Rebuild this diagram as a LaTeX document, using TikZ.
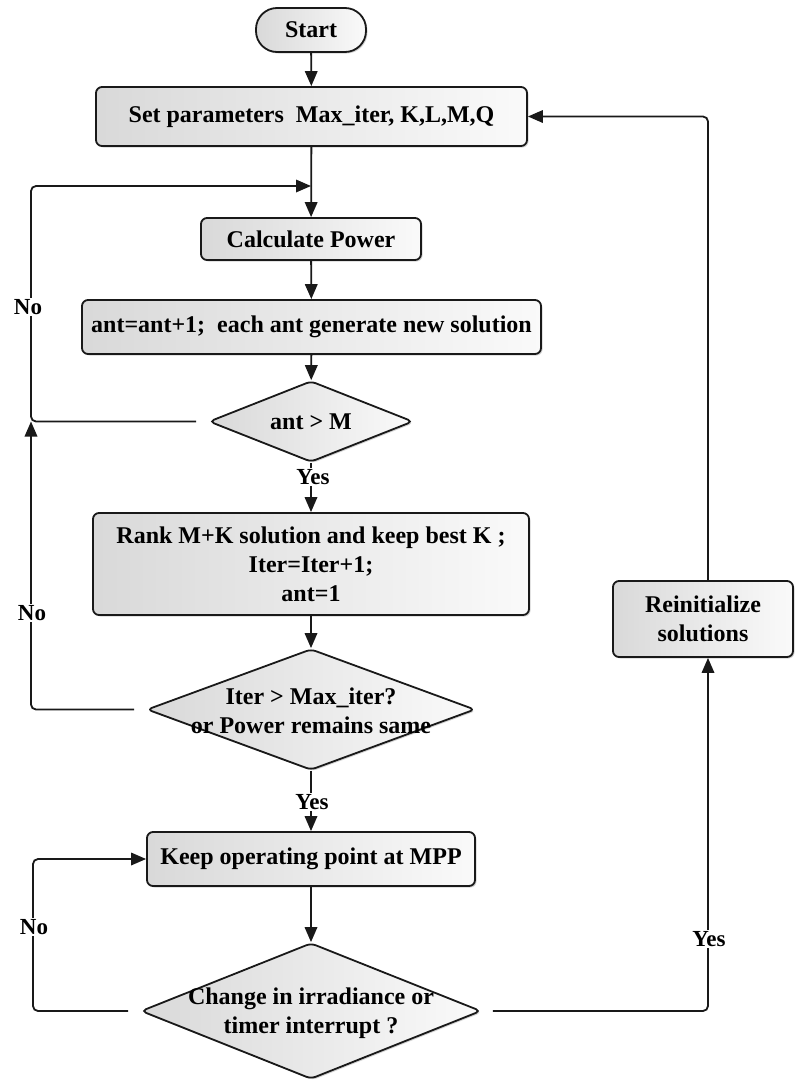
\documentclass[tikz,border=0pt]{standalone}
\usepackage{fontspec}
\setmainfont{Liberation Serif}
\usetikzlibrary{shapes.geometric,arrows.meta,shadows}

\begin{document}
\begin{tikzpicture}[x=1pt,y=-1pt,
  every node/.style={font=\fontsize{24}{29}\selectfont\bfseries, inner sep=0pt, align=center},
  procbox/.style={draw=black!90, line width=1.8pt, rounded corners=6pt,
    left color=black!15, right color=black!2,
    drop shadow={shadow xshift=1.5pt, shadow yshift=-1.5pt, opacity=0.35, fill=black!50}},
  termbox/.style={procbox, rounded corners=21pt},
  decision/.style={diamond, draw=black!90, line width=1.8pt, rounded corners=5pt,
    left color=black!15, right color=black!2,
    drop shadow={shadow xshift=1.5pt, shadow yshift=-1.5pt, opacity=0.35, fill=black!50}},
  flow/.style={line width=1.8pt, draw=black!90, -{Triangle[length=15pt,width=12.5pt]}},
  tag/.style={fill=white, inner sep=1pt, font=\fontsize{23}{27}\selectfont\bfseries}
]
\useasboundingbox (0,0) rectangle (795,1082);

% process blocks
\node[termbox, minimum width=110pt, minimum height=44pt] (start) at (311,30) {Start};
\node[procbox, minimum width=431pt, minimum height=59pt] (setp) at (311.5,116.5)
  {Set parameters\ \ Max\_iter, K,L,M,Q};
\node[procbox, minimum width=220pt, minimum height=42pt] (calc) at (311,239) {Calculate Power};
\node[procbox, minimum width=459pt, minimum height=54pt] (gen) at (311.5,327)
  {ant=ant+1;\ \ each ant generate new solution};
\node[decision, minimum width=204pt, minimum height=81pt] (d1) at (311,421.5) {};
\node (d1t) at (d1) {ant > M};
\node[procbox, minimum width=436pt, minimum height=102pt] (rank) at (311,564)
  {Rank M+K solution and keep best K ;\\Iter=Iter+1;\\ant=1};
\node[decision, minimum width=328pt, minimum height=121pt] (d2) at (311,709.5) {};
\node (d2t) at (311,711) {Iter > Max\_iter?\\or Power remains same};
\node[procbox, minimum width=328pt, minimum height=54pt] (keep) at (311,859) {Keep operating point at MPP};
\node[decision, minimum width=340pt, minimum height=136pt] (d3) at (311,1011) {};
\node (d3t) at (311,1013) {Change in irradiance or\\timer interrupt ?};
\node[procbox, minimum width=180pt, minimum height=76pt] (reinit) at (703,619) {Reinitialize\\solutions};

% routing columns
\coordinate (lc) at (31,0);
\coordinate (lc3) at (33,0);
\coordinate (rc) at (708,0);
\coordinate (j1) at (311,186);

% main column
\draw[flow] (start) -- (setp);
\draw[flow] (setp) -- (calc);
\draw[flow] (calc) -- (gen);
\draw[flow] (gen) -- (d1);
\draw[flow] (d1) -- (rank);
\draw[flow] (rank) -- (d2);
\draw[flow] (d2) -- (keep);
\draw[flow] (keep) -- (d3);

% feedback loops
\draw[flow, rounded corners=5pt] ([xshift=-12pt]d1.west) -- (lc |- d1.west) -- (lc |- j1) -- (j1);
\draw[flow, rounded corners=5pt] ([xshift=-12pt]d2.west) -- (lc |- d2.west) -- (lc |- d1.west);
\draw[flow, rounded corners=5pt] ([xshift=-12pt]d3.west) -- (lc3 |- d3.west) -- (lc3 |- keep.west) -- (keep.west);
\draw[flow, rounded corners=5pt] ([xshift=11pt]d3.east) -- (rc |- d3.east) -- (rc |- reinit.south);
\draw[flow, rounded corners=5pt] (rc |- reinit.north) -- (rc |- setp.east) -- (setp.east);

% branch labels
\node[tag] (y1) at (313,477) {Yes};
\node[tag] (y2) at (312,802) {Yes};
\node[tag] (n1) at (28,307) {No};
\node[tag] (n2) at (32,613) {No};
\node[tag] (n3) at (34,927) {No};
\node[tag] (y3) at (709,939) {Yes};
\end{tikzpicture}
\end{document}
